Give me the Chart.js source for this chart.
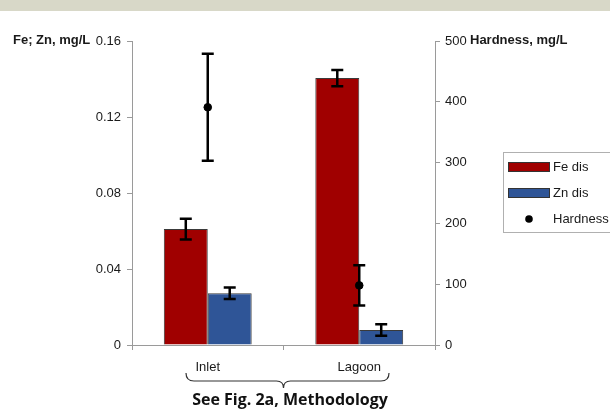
<!DOCTYPE html>
<html lang="en">
<head>
    <meta charset="UTF-8">
    <title>Fe, Zn and Hardness - Inlet vs Lagoon</title>
    <script src="https://cdn.jsdelivr.net/npm/chart.js"></script>
    <style>
        html, body { margin: 0; padding: 0; background: #fff; }
        #chart { display: block; }
    </style>
</head>
<body>
    <canvas id="chart" width="610" height="409"></canvas>
    <script>
        // values
        const categories = ['Inlet', 'Lagoon'];
        const feDis = [0.061, 0.1405];
        const feErr = [0.0055, 0.0043];
        const znDis = [0.0272, 0.0079];
        const znErr = [0.003, 0.003];
        const hardness = [391, 98];
        const hardErr = [88, 33];
        const leftTicks = [0, 0.04, 0.08, 0.12, 0.16];
        const rightTicks = [0, 100, 200, 300, 400, 500];

        const FE_COLOR = '#a00000';
        const ZN_COLOR = '#2f5597';
        const AXIS_COLOR = '#9a9a9a';
        const TEXT_COLOR = '#1a1a1a';

        Chart.defaults.font.family = "'Liberation Sans', Arial, sans-serif";
        Chart.defaults.font.size = 13;
        Chart.defaults.color = TEXT_COLOR;

        const extras = {
            id: 'extras',
            beforeDraw(chart) {
                const ctx = chart.ctx;
                ctx.save();
                ctx.fillStyle = '#ffffff';
                ctx.fillRect(0, 0, chart.width, chart.height);
                // grey band along the top edge
                ctx.fillStyle = '#d8d8c8';
                ctx.fillRect(0, 0, chart.width, 11);
                ctx.restore();
            },
            afterDatasetsDraw(chart) {
                // error bars
                const ctx = chart.ctx;
                ctx.save();
                ctx.strokeStyle = '#000';
                ctx.lineWidth = 2.5;
                chart.data.datasets.forEach((ds, i) => {
                    if (!ds.errors) return;
                    const meta = chart.getDatasetMeta(i);
                    const scale = chart.scales[meta.yAxisID];
                    meta.data.forEach((el, j) => {
                        const v = ds.data[j], e = ds.errors[j];
                        const yTop = scale.getPixelForValue(v + e);
                        const yBot = scale.getPixelForValue(v - e);
                        const x = el.x;
                        ctx.beginPath();
                        ctx.moveTo(x, yTop); ctx.lineTo(x, yBot);
                        ctx.moveTo(x - 6, yTop); ctx.lineTo(x + 6, yTop);
                        ctx.moveTo(x - 6, yBot); ctx.lineTo(x + 6, yBot);
                        ctx.stroke();
                    });
                });
                ctx.restore();
            },
            afterDraw(chart) {
                const ctx = chart.ctx;
                const area = chart.chartArea;
                ctx.save();

                // axis titles
                ctx.fillStyle = TEXT_COLOR;
                ctx.font = "bold 13px 'Liberation Sans', Arial, sans-serif";
                ctx.textBaseline = 'middle';
                ctx.textAlign = 'left';
                ctx.fillText('Fe; Zn, mg/L', 13, area.top - 1);
                ctx.fillText('Hardness, mg/L', 470, area.top - 1);

                // legend
                ctx.strokeStyle = '#b0b0b0';
                ctx.lineWidth = 1;
                ctx.strokeRect(503.5, 152.5, 120, 80);
                ctx.font = "13px 'Liberation Sans', Arial, sans-serif";
                const items = chart.data.datasets.slice().sort((a, b) => a.legendPos - b.legendPos);
                items.forEach((ds, k) => {
                    const cy = 167 + k * 26;
                    if (ds.type === 'line') {
                        ctx.fillStyle = '#000';
                        ctx.beginPath();
                        ctx.arc(529, cy, 3.8, 0, Math.PI * 2);
                        ctx.fill();
                    } else {
                        ctx.fillStyle = ds.backgroundColor;
                        ctx.fillRect(508.5, cy - 4.5, 41, 9);
                        ctx.strokeStyle = '#333';
                        ctx.strokeRect(508.5, cy - 4.5, 41, 9);
                    }
                    ctx.fillStyle = TEXT_COLOR;
                    ctx.fillText(ds.label, 553, cy);
                });

                // brace under the category labels
                const xs = chart.scales.x;
                const mid = (xs.getPixelForValue(0) + xs.getPixelForValue(1)) / 2;
                const l = 186, r = 389, top = 373, line = 381, tip = 388;
                ctx.strokeStyle = '#333';
                ctx.lineWidth = 1.2;
                ctx.beginPath();
                ctx.moveTo(l, top);
                ctx.quadraticCurveTo(l, line, l + 8, line);
                ctx.lineTo(mid - 7, line);
                ctx.quadraticCurveTo(mid, line, mid, tip);
                ctx.quadraticCurveTo(mid, line, mid + 7, line);
                ctx.lineTo(r - 8, line);
                ctx.quadraticCurveTo(r, line, r, top);
                ctx.stroke();

                // caption
                ctx.fillStyle = '#111';
                ctx.font = "bold 16px 'Open Sans', sans-serif";
                ctx.textAlign = 'center';
                ctx.textBaseline = 'alphabetic';
                ctx.fillText('See Fig. 2a, Methodology', 290, 405);

                ctx.restore();
            }
        };

        const chart = new Chart(document.getElementById('chart').getContext('2d'), {
            type: 'bar',
            data: {
                labels: categories,
                datasets: [
                    {
                        type: 'line',
                        label: 'Hardness',
                        legendPos: 2,
                        data: hardness,
                        errors: hardErr,
                        yAxisID: 'y1',
                        showLine: false,
                        pointRadius: 3.8,
                        pointBackgroundColor: '#000',
                        pointBorderColor: '#000',
                        borderColor: '#000',
                        backgroundColor: '#000'
                    },
                    {
                        label: 'Fe dis',
                        legendPos: 0,
                        data: feDis,
                        errors: feErr,
                        yAxisID: 'y',
                        backgroundColor: FE_COLOR,
                        borderColor: '#3a3a3a',
                        borderWidth: 1
                    },
                    {
                        label: 'Zn dis',
                        legendPos: 1,
                        data: znDis,
                        errors: znErr,
                        yAxisID: 'y',
                        backgroundColor: ZN_COLOR,
                        borderColor: '#3a3a3a',
                        borderWidth: 1
                    }
                ]
            },
            options: {
                responsive: false,
                animation: false,
                devicePixelRatio: 1,
                layout: { padding: { top: 41, left: 0, right: 0, bottom: 0 } },
                categoryPercentage: 0.58,
                barPercentage: 1,
                plugins: {
                    legend: { display: false },
                    tooltip: { enabled: false }
                },
                scales: {
                    x: {
                        grid: { drawOnChartArea: false, color: AXIS_COLOR, tickLength: 5 },
                        border: { color: AXIS_COLOR },
                        ticks: { padding: 10, font: { size: 13 } },
                        afterFit: s => { s.height = 64; }
                    },
                    y: {
                        position: 'left',
                        min: 0,
                        max: 0.16,
                        afterBuildTicks: s => { s.ticks = leftTicks.map(v => ({ value: v })); },
                        ticks: {
                            padding: 6,
                            callback: v => v === 0 ? '0' : v.toFixed(2)
                        },
                        grid: { drawOnChartArea: false, color: AXIS_COLOR, tickLength: 5 },
                        border: { color: AXIS_COLOR },
                        afterFit: s => { s.width = 132; }
                    },
                    y1: {
                        position: 'right',
                        min: 0,
                        max: 500,
                        afterBuildTicks: s => { s.ticks = rightTicks.map(v => ({ value: v })); },
                        ticks: { padding: 5 },
                        grid: { drawOnChartArea: false, color: AXIS_COLOR, tickLength: 5 },
                        border: { color: AXIS_COLOR },
                        afterFit: s => { s.width = 175; }
                    }
                }
            },
            plugins: [extras]
        });
    </script>
</body>
</html>
